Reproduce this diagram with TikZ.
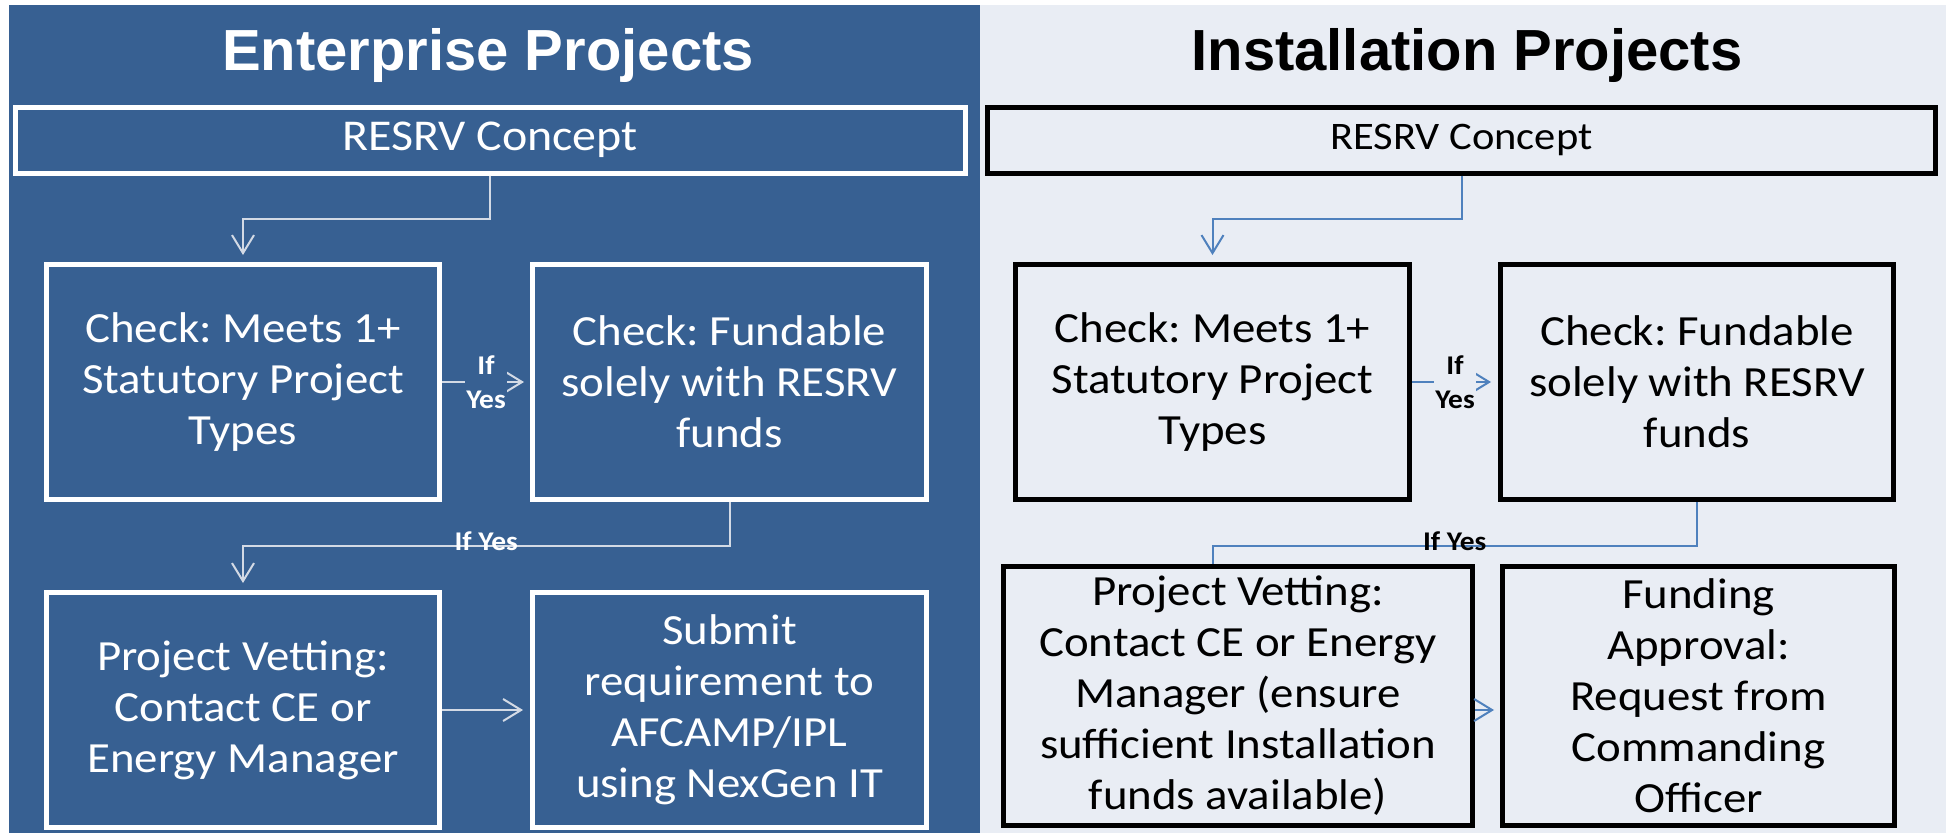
\documentclass[tikz,border=0pt]{standalone}
\usepackage{fontspec}
\setmainfont[FakeStretch=1.09]{Carlito}
\newfontfamily\headfont{Liberation Sans}
\usetikzlibrary{positioning, arrows.meta}

\definecolor{entblue}{HTML}{376092}
\definecolor{instgray}{HTML}{E9EDF4}
\definecolor{entline}{HTML}{D3DAE5}
\definecolor{instline}{HTML}{4F81BD}

\tikzset{
x=1pt, y=-1pt, % one unit is one pixel of the slide, y pointing down
>={Straight Barb[length=18pt, width=22pt]}, % open arrow heads
heading/.style={font=\headfont\bfseries\fontsize{58}{70}\selectfont, anchor=base, inner sep=0pt},
stepbox/.style={draw, line width=5pt, align=center, inner sep=0pt, font=\fontsize{43}{51}\selectfont},
entbox/.style={stepbox, draw=white, text=white}, % boxes on the blue half
instbox/.style={stepbox, draw=black, text=black}, % boxes on the grey half
ifyes/.style={font=\bfseries\fontsize{27}{34}\selectfont, align=center, inner sep=1pt},
entlink/.style={->, draw=entline, line width=2pt},
instlink/.style={->, draw=instline, line width=2pt},
}

\begin{document}
\frenchspacing
\begin{tikzpicture}
    \path[use as bounding box, fill=white] (0,0) rectangle (1954,833);
    \fill[entblue] (9,5) rectangle (980,833);
    \fill[instgray] (980,5) rectangle (1946,833);

    % Enterprise Projects
    \node[heading, text=white] (headL) at (488,70) {Enterprise Projects};
    \node[entbox, minimum width=950pt, minimum height=66pt, font=\fontsize{44}{53}\selectfont] (resrvL) at (490,140) {RESRV Concept};
    \node[entbox, minimum width=393pt, minimum height=235pt] (chkL) at (243,382) {Check: Meets 1+\\Statutory Project\\Types};
    \node[entbox, minimum width=394pt, minimum height=235pt, right=88pt of chkL] (fundL) {Check: Fundable\\solely with RESRV\\funds};
    \node[entbox, minimum width=393pt, minimum height=235pt, below=88pt of chkL] (vetL) {Project Vetting:\\Contact CE or\\Energy Manager};
    \node[entbox, minimum width=394pt, minimum height=235pt, right=88pt of vetL] (subL) {Submit\\requirement to\\AFCAMP/IPL\\using NexGen IT};
    \draw[entlink, shorten >=7pt] (resrvL.south) -- ++(0,43) -| (chkL.north);
    \draw[entlink, shorten >=6pt] (chkL) -- node[ifyes, fill=entblue, text=white] {If\\Yes} (fundL);
    \draw[entlink, shorten >=7pt] (fundL.south) -- ++(0,44) -| node[ifyes, pos=0.25, yshift=5pt, text=white] {If Yes} (vetL.north);
    \draw[entlink, shorten >=7pt] (vetL) -- (subL);

    % Installation Projects
    \node[heading, text=black] (headR) at (1467,70) {Installation Projects};
    \node[instbox, minimum width=948pt, minimum height=66pt, font=\fontsize{39}{47}\selectfont] (resrvR) at (1461.5,140) {RESRV Concept};
    \node[instbox, minimum width=394pt, minimum height=235pt] (chkR) at (1212.5,382) {Check: Meets 1+\\Statutory Project\\Types};
    \node[instbox, minimum width=393pt, minimum height=235pt, right=86pt of chkR] (fundR) {Check: Fundable\\solely with RESRV\\funds};
    \node[instbox, minimum width=469pt, minimum height=259pt] (vetR) at (1238,696) {Project Vetting:\\Contact CE or Energy\\Manager (ensure\\sufficient Installation\\funds available)};
    \node[instbox, minimum width=392pt, minimum height=259pt, right=25pt of vetR] (apprR) {Funding\\Approval:\\Request from\\Commanding\\Officer};
    \draw[instlink, shorten >=7pt] (resrvR.south) -- ++(0,43) -| (chkR.north);
    \draw[instlink, shorten >=7pt] (chkR) -- node[ifyes, fill=instgray, text=black] {If\\Yes} (fundR);
    \draw[instlink, -] (fundR.south) -- ++(0,44) -| node[ifyes, pos=0.25, yshift=5pt, text=black] {If Yes} (chkR |- vetR.north);
    \draw[instlink, shorten >=6pt] (vetR.east |- vetL) -- (apprR.west |- vetL);
\end{tikzpicture}
\end{document}
